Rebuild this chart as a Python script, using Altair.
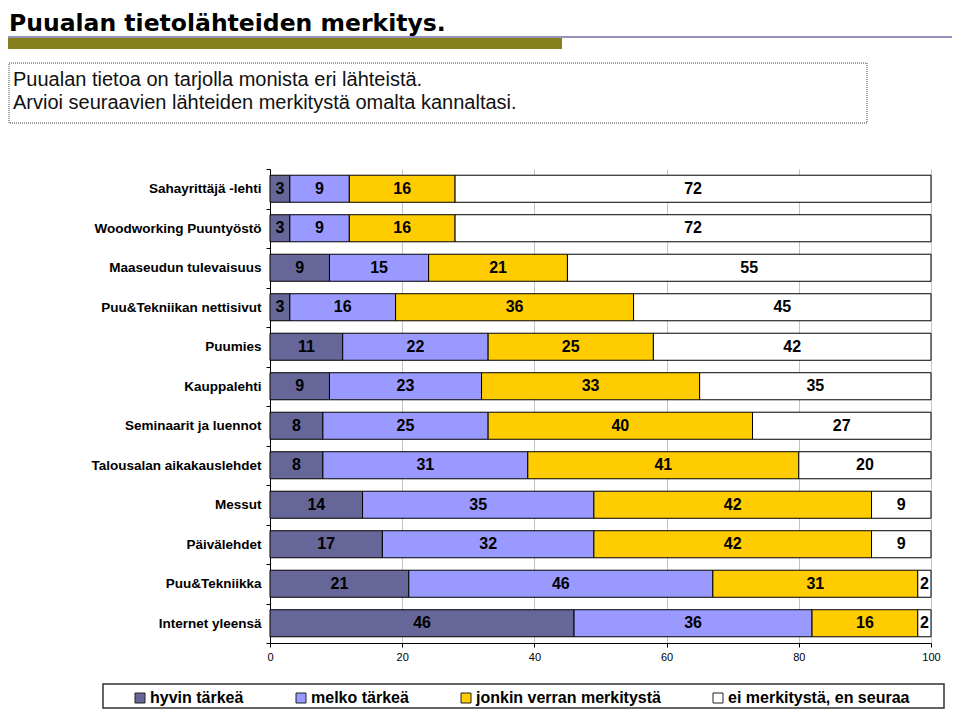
import altair as alt
import pandas as pd

# ---------------- data ----------------
sources = [
    "Sahayrittäjä -lehti",
    "Woodworking Puuntyöstö",
    "Maaseudun tulevaisuus",
    "Puu&Tekniikan nettisivut",
    "Puumies",
    "Kauppalehti",
    "Seminaarit ja luennot",
    "Talousalan aikakauslehdet",
    "Messut",
    "Päivälehdet",
    "Puu&Tekniikka",
    "Internet yleensä",
]
categories = [
    "hyvin tärkeä",
    "melko tärkeä",
    "jonkin verran merkitystä",
    "ei merkitystä, en seuraa",
]
hyvin = [3, 3, 9, 3, 11, 9, 8, 8, 14, 17, 21, 46]
melko = [9, 9, 15, 16, 22, 23, 25, 31, 35, 32, 46, 36]
jonkin = [16, 16, 21, 36, 25, 33, 40, 41, 42, 42, 31, 16]
ei = [72, 72, 55, 45, 42, 35, 27, 20, 9, 9, 2, 2]
colors = ["#666699", "#9999FF", "#FFCC00", "#FFFFFF"]
x_ticks = [0, 20, 40, 60, 80, 100]

title_text = "Puualan tietolähteiden merkitys."
intro_lines = [
    "Puualan tietoa on tarjolla monista eri lähteistä.",
    "Arvioi seuraavien lähteiden merkitystä omalta kannaltasi.",
]

series = [hyvin, melko, jonkin, ei]
rows = []
for ci, (cat, vals) in enumerate(zip(categories, series)):
    for src, v in zip(sources, vals):
        rows.append({"source": src, "category": cat, "value": v, "order": ci})
df = pd.DataFrame(rows)

# ---------------- layout ----------------
W, H = 661, 474
PAD = {"left": 262, "top": 161, "right": 21, "bottom": 67}
FONT = "Liberation Sans"

base = (
    alt.Chart(df)
    .transform_stack(
        stack="value",
        groupby=["source"],
        sort=[alt.SortField("order", order="ascending")],
        as_=["v0", "v1"],
    )
    .transform_calculate(mid="(datum.v0 + datum.v1) / 2")
)

y_enc = alt.Y(
    "source:N",
    sort=sources,
    title=None,
    scale=alt.Scale(paddingInner=0, paddingOuter=0),
    axis=alt.Axis(
        tickBand="extent",
        tickSize=4,
        tickColor="black",
        domainColor="black",
        labelFont=FONT,
        labelFontSize=13.5,
        labelFontWeight="bold",
        labelColor="black",
        labelPadding=5,
        labelLimit=300,
        grid=False,
    ),
)

bars = base.mark_bar(
    stroke="black", strokeWidth=1, height=alt.RelativeBandSize(0.685)
).encode(
    x=alt.X(
        "v0:Q",
        scale=alt.Scale(domain=[0, 100], nice=False),
        title=None,
        axis=alt.Axis(
            values=x_ticks,
            tickSize=4,
            tickColor="black",
            domainColor="black",
            labelFont=FONT,
            labelFontSize=11,
            labelColor="black",
            labelPadding=4,
            labelFlush=False,
            grid=True,
            gridColor="#c4c4c4",
            gridWidth=1,
        ),
    ),
    x2="v1:Q",
    y=y_enc,
    color=alt.Color(
        "category:N",
        scale=alt.Scale(domain=categories, range=colors),
        legend=alt.Legend(
            orient="none",
            direction="horizontal",
            legendX=-138,
            legendY=521,
            title=None,
            padding=0,
            symbolType="square",
            symbolSize=100,
            symbolStrokeColor="#222",
            symbolStrokeWidth=1,
            labelFont=FONT,
            labelFontSize=16,
            labelFontWeight="bold",
            labelColor="black",
            labelOffset=2,
            labelLimit=400,
            columnPadding=49,
        ),
    ),
    order=alt.Order("order:Q"),
)

labels = base.mark_text(
    font=FONT, fontSize=16, fontWeight="bold", color="black", baseline="middle"
).encode(
    x=alt.X("mid:Q"),
    y=alt.Y("source:N", sort=sources),
    text=alt.Text("value:Q"),
)

one = pd.DataFrame({"t": [title_text]})
title = alt.Chart(one).mark_text(
    font="DejaVu Sans", fontSize=23.5, fontWeight="bold", color="black",
    align="left", baseline="alphabetic",
).encode(x=alt.value(-261), y=alt.value(-138), text="t:N")

blue_line = alt.Chart(one).mark_rule(color="#6f6fa6", strokeWidth=1.5).encode(
    x=alt.value(-262), x2=alt.value(700), y=alt.value(-132)
)
olive = alt.Chart(one).mark_rect(color="#857F1E").encode(
    x=alt.value(-262), x2=alt.value(292), y=alt.value(-131), y2=alt.value(-120)
)
dotted_box = alt.Chart(one).mark_rect(
    fill="white", fillOpacity=0, stroke="#444", strokeWidth=1, strokeDash=[1, 1]
).encode(x=alt.value(-261), x2=alt.value(597), y=alt.value(-106), y2=alt.value(-46))

intro = alt.Chart(pd.DataFrame({"t": ["\n".join(intro_lines)]})).mark_text(
    font=FONT, fontSize=20, color="#111", align="left", baseline="middle",
    lineBreak="\n", lineHeight=23,
).encode(x=alt.value(-257), y=alt.value(-89), text="t:N")

legend_box = alt.Chart(one).mark_rect(
    fill="white", fillOpacity=0, stroke="#333", strokeWidth=1.5
).encode(x=alt.value(-167), x2=alt.value(674), y=alt.value(515), y2=alt.value(539))

chart = (
    alt.layer(bars, labels, title, blue_line, olive, dotted_box, intro, legend_box)
    .properties(
        width=W,
        height=H,
        autosize=alt.AutoSizeParams(type="none"),
        padding=PAD,
        background="white",
    )
    .configure_view(strokeWidth=0)
)

chart.save("out.html", embed_options={"renderer": "svg", "actions": False})
